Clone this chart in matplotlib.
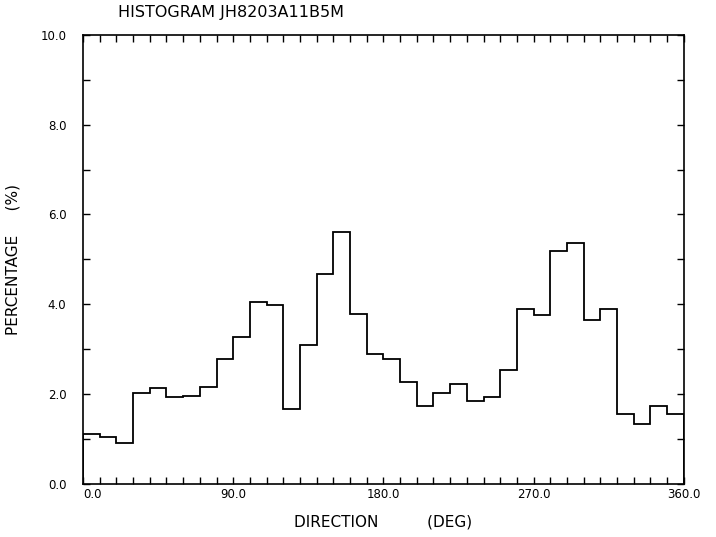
import numpy as np
import matplotlib.pyplot as plt
from matplotlib.ticker import MultipleLocator

# percentage of records per 10-degree direction bin
edges = np.arange(0, 361, 10)
pct = [1.11, 1.04, 0.90, 2.03, 2.14, 1.94, 1.96, 2.16, 2.78, 3.26,
       4.05, 3.98, 1.67, 3.10, 4.68, 5.60, 3.79, 2.89, 2.77, 2.26,
       1.73, 2.03, 2.22, 1.85, 1.94, 2.53, 3.90, 3.76, 5.18, 5.36,
       3.66, 3.90, 1.56, 1.33, 1.73, 1.56]
xticks = [0, 90, 180, 270, 360]
xlabels = ['0.0', '90.0', '180.0', '270.0', '360.0']
yticks = [0, 2, 4, 6, 8, 10]
ylabels = ['0.0', '2.0', '4.0', '6.0', '8.0', '10.0']

plt.rcParams['font.family'] = 'DejaVu Sans'
fig = plt.figure(figsize=(7.16, 5.37), dpi=100)
ax = fig.add_axes([0.116, 0.099, 0.839, 0.836])

ax.stairs(pct, edges, color='black', linewidth=1.3)

ax.set_xlim(0, 360)
ax.set_ylim(0, 10)
ax.set_xticks(xticks)
ax.set_xticklabels(xlabels)
ax.set_yticks(yticks)
ax.set_yticklabels(ylabels)
ax.xaxis.set_minor_locator(MultipleLocator(10))
ax.yaxis.set_minor_locator(MultipleLocator(1))
ax.tick_params(which='both', direction='in', top=True, right=True,
               length=5, width=1.0, labelsize=8.5)
ax.tick_params(axis='y', pad=12)
ax.tick_params(axis='x', pad=3)
# first direction label sits just right of the corner
ax.get_xticklabels()[0].set_horizontalalignment('left')
for s in ax.spines.values():
    s.set_linewidth(1.2)

ax.set_xlabel('DIRECTION          (DEG)', fontsize=11, labelpad=10)
ax.set_ylabel('PERCENTAGE     (%)', fontsize=11, labelpad=14)
fig.text(0.165, 0.977, 'HISTOGRAM JH8203A11B5M', fontsize=11.5, va='center', ha='left')

fig.savefig('out.png', dpi=100)
